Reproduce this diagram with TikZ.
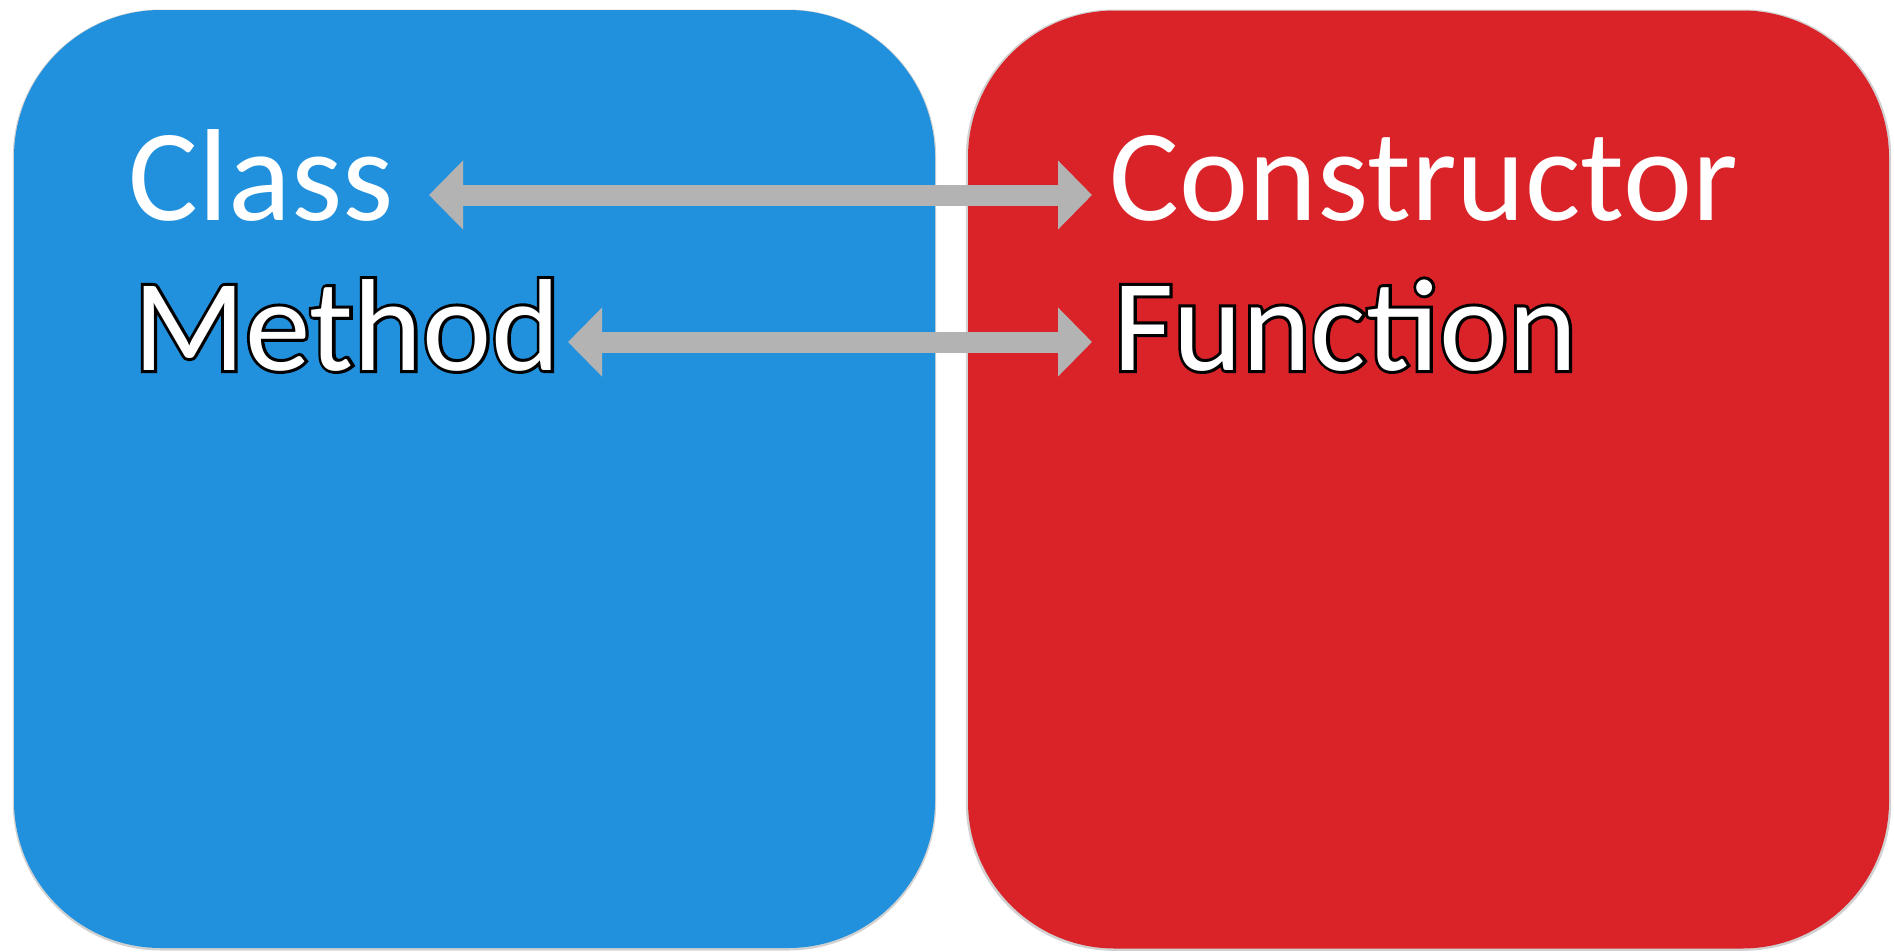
\documentclass[tikz,border=0pt]{standalone}
\usepackage{fontspec}
\setmainfont{Carlito}
\newfontfamily\outlinefont[FakeBold=4.6]{Carlito}
\usetikzlibrary{arrows.meta}
\definecolor{boxblue}{HTML}{2291DD}
\definecolor{boxred}{HTML}{DA2329}
\definecolor{arrgray}{HTML}{B3B3B3}
\definecolor{shade}{HTML}{9A9A9A}
\newcommand\outlinedtext[1]{%
  \rlap{\outlinefont\color{black}#1}\textcolor{white}{#1}%
}
\begin{document}
\begin{tikzpicture}[x=1pt,y=-1pt,
  panel/.style={rounded corners=147pt, minimum width=921pt, minimum height=938pt, inner sep=0pt, draw=none},
  panelshadow/.style={rounded corners=148pt, fill=shade, opacity=0.45},
  word/.style={anchor=base west, inner sep=0pt, font=\fontsize{131}{150}\selectfont},
  plainword/.style={word, text=white},
  link/.style={draw=arrgray, line width=21pt, {Triangle[length=34pt,width=67pt]}-{Triangle[length=34pt,width=67pt]}}
]
\useasboundingbox (0,0) rectangle (1894,951);
% shadows
\fill[panelshadow] (12.8,9.5) rectangle (936.2,950.5);
\fill[panelshadow] (965.8,9.5) rectangle (1891.2,950.8);
% panels
\node[panel, fill=boxblue] (leftpanel) at (474.5,479) {};
\node[panel, fill=boxred] (rightpanel) at (1428.5,479.5) {};
% words
\node[plainword] (class) at (128.5,220) {Class};
\node[plainword] (constructor) at (1109.5,220) {Constructor};
\node[word] (method) at (133,370) {\outlinedtext{Method}};
\node[word] (function) at (1113,370) {\outlinedtext{Function}};
% arrow ends
\coordinate (c1l) at (429,195);
\coordinate (c1r) at (1092,195);
\coordinate (c2l) at (568,342);
\coordinate (c2r) at (1092,342);
\draw[link] (c1l) -- (c1r);
\draw[link] (c2l) -- (c2r);
\end{tikzpicture}
\end{document}
